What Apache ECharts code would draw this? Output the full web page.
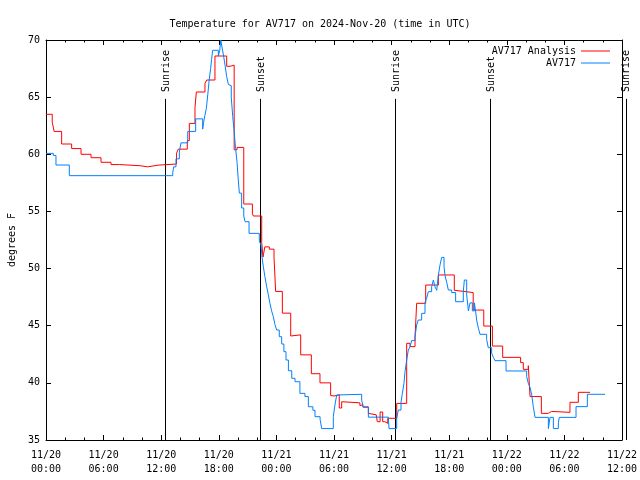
<!DOCTYPE html>
<html>
<head>
<meta charset="utf-8">
<script src="https://cdn.jsdelivr.net/npm/echarts@6/dist/echarts.min.js"></script>
<style>html,body{margin:0;padding:0;background:#fff}#c{width:640px;height:480px}</style>
</head>
<body>
<div id="c"></div>
<script>
// hours since 2024-11-20 00:00 UTC, degrees F
const analysisTimes = [0,0.65,0.85,1.63,2.67,3.65,4.69,5.73,6.77,7.64,9.79,10.6,11.67,13.6,13.78,14.72,14.93,15.52,15.66,16.56,16.74,17.6,18.82,19.17,19.6,19.9,20.6,21.5,21.6,22.47,22.6,22.8,23.26,23.75,23.92,24.62,25.49,25.66,26.53,27.64,28.54,29.65,29.8,30.0,30.55,30.8,30.97,32.7,32.9,33.0,33.58,33.75,34.4,34.51,34.8,35.07,35.3,35.6,36.53,37.57,37.92,38.44,38.61,39.55,40.87,42.53,42.7,43.54,44.5,45.6,46.5,47.57,49.44,49.72,50.24,50.42,51.6,52.33,52.67,54.58,55.45,56.67];
const analysisTemps = [63.5,62.8,62.0,60.9,60.5,60.0,59.7,59.3,59.1,59.0,58.9,59.05,59.15,60.1,60.45,61.2,62.7,64.1,65.45,66.2,66.5,68.6,67.7,67.8,60.4,60.6,55.65,54.8,54.6,52.3,51.0,51.9,51.7,51.0,48.0,46.1,44.1,44.2,42.45,40.8,40.0,38.9,38.85,38.95,37.8,38.35,38.25,38.0,38.1,37.9,37.33,37.2,37.05,36.6,37.45,36.6,36.46,36.9,38.2,43.46,43.17,44.0,46.96,48.56,49.44,48.1,48.0,47.9,46.37,44.97,43.22,42.23,41.77,41.18,41.5,38.8,37.33,37.5,37.42,38.3,39.17,39.17];

const obsTimes = [0,0.76,1.04,2.43,13.2,13.3,13.54,13.89,14.06,14.76,15.59,16.32,16.42,16.55,16.7,16.85,17.0,17.15,17.25,17.36,17.95,18.1,18.2,18.35,18.5,18.65,18.82,19.0,19.17,19.3,19.45,19.6,19.75,19.9,20.03,20.14,20.38,20.6,20.73,21.15,22.22,22.4,22.5,22.64,22.8,22.99,23.16,23.33,23.5,23.68,23.85,24.03,24.3,24.55,24.78,25.0,25.25,25.6,25.94,26.45,26.97,27.33,27.8,28.02,28.55,28.72,29.93,30.1,30.28,30.45,32.88,33.05,33.58,35.66,35.73,36.53,36.7,36.98,37.12,37.29,37.4,37.57,37.74,37.92,38.09,38.44,38.61,38.78,39.13,39.48,39.65,39.83,40.17,40.35,40.52,40.7,40.87,41.04,41.22,41.46,41.56,41.74,41.91,42.26,42.67,43.47,43.58,43.82,44.0,44.17,44.41,44.62,44.76,44.86,45.04,45.21,45.9,46.07,46.42,46.6,46.77,47.92,50.07,50.24,50.42,50.6,50.76,50.94,52.33,52.5,52.85,53.37,53.47,55.21,56.39,58.23];
const obsTemps = [60.08,59.9,59.06,58.13,58.4,58.9,59.6,60.2,61.0,62.0,63.1,62.2,62.8,63.4,64.0,65.2,66.5,67.5,68.3,69.1,68.6,69.1,70.0,69.3,68.6,67.8,66.8,66.1,66.0,65.0,63.3,62.0,60.5,59.3,57.75,56.6,55.3,54.6,54.1,53.08,52.4,52.06,51.0,50.16,49.3,48.4,47.7,46.96,46.3,45.79,45.1,44.62,44.04,43.4,42.73,42.0,41.06,40.4,40.1,39.08,38.8,37.91,37.6,37.04,36.8,36.0,37.04,38.06,38.94,39.0,38.5,37.86,37.0,36.98,36.0,36.9,37.62,38.3,39.08,39.96,40.98,42.0,42.87,43.17,43.7,44.04,45.06,45.5,46.08,47.05,47.4,47.98,48.4,49.0,48.4,48.1,49.4,50.3,50.98,50.2,49.4,48.8,48.12,47.9,47.1,48.0,49.0,47.7,46.3,47.0,46.3,47.0,46.2,45.5,44.77,44.25,43.8,43.08,42.6,42.23,41.94,41.04,40.54,39.96,39.6,38.94,37.92,36.98,36.0,36.98,36.0,36.5,36.98,37.92,39.0,39.0];

const sunTimes = [12.43, 22.32, 36.39, 46.28, 60.39];
const sunLabels = ['Sunrise', 'Sunset', 'Sunrise', 'Sunset', 'Sunrise'];

const xTickLabels = ['11/20\n00:00','11/20\n06:00','11/20\n12:00','11/20\n18:00','11/21\n00:00','11/21\n06:00','11/21\n12:00','11/21\n18:00','11/22\n00:00','11/22\n06:00','11/22\n12:00'];

const FONT = 'DejaVu Sans Mono';
const RED = '#ff0000', BLUE = '#0080ff';
const zip = (a, b) => a.map((v, i) => [v, b[i]]);
const LEGEND_ICON = 'path://M0,0L29,0L29,1L0,1Z';

const chart = echarts.init(document.getElementById('c'));
const xCommon = {
  type: 'value', min: 0, max: 60, interval: 6,
  axisLine: {show: true, onZero: false, lineStyle: {color: '#000', width: 1}},
  axisTick: {show: true, inside: true, length: 5, lineStyle: {color: '#000'}},
  minorTick: {show: true, splitNumber: 3, length: 2.5, lineStyle: {color: '#000'}},
  splitLine: {show: false}
};
const yCommon = {
  type: 'value', min: 35, max: 70, interval: 5,
  axisLine: {show: true, onZero: false, lineStyle: {color: '#000', width: 1}},
  axisTick: {show: true, inside: true, length: 5, lineStyle: {color: '#000'}},
  splitLine: {show: false}
};
chart.setOption({
  animation: false,
  backgroundColor: '#fff',
  title: {
    text: 'Temperature for AV717 on 2024-Nov-20 (time in UTC)',
    left: 'center', top: 14,
    textStyle: {fontFamily: FONT, fontSize: 10, fontWeight: 'normal', color: '#000'}
  },
  grid: {left: 46, right: 18, top: 40, bottom: 40, containLabel: false, outerBoundsMode: 'none'},
  legend: {
    data: [
      {name: 'AV717 Analysis', icon: LEGEND_ICON, itemStyle: {color: RED}},
      {name: 'AV717', icon: LEGEND_ICON, itemStyle: {color: BLUE}}
    ],
    orient: 'vertical', align: 'right',
    right: 30, top: 45, padding: 0,
    itemWidth: 29, itemHeight: 1, itemGap: 0,
    textStyle: {fontFamily: FONT, fontSize: 10, color: '#000', lineHeight: 12}
  },
  xAxis: [
    Object.assign({}, xCommon, {
      position: 'bottom',
      axisLabel: {
        fontFamily: FONT, fontSize: 10, color: '#000', margin: 8, lineHeight: 14,
        formatter: v => xTickLabels[Math.round(v / 6)]
      }
    }),
    Object.assign({}, xCommon, {position: 'top', axisLabel: {show: false}})
  ],
  yAxis: [
    Object.assign({}, yCommon, {
      position: 'left',
      name: 'degrees F', nameLocation: 'middle', nameRotate: 90, nameGap: 29,
      nameTextStyle: {fontFamily: FONT, fontSize: 10, color: '#000'},
      axisLabel: {fontFamily: FONT, fontSize: 10, color: '#000', margin: 6}
    }),
    Object.assign({}, yCommon, {position: 'right', axisLabel: {show: false}})
  ],
  series: [
    {
      name: 'AV717 Analysis', type: 'line', step: 'end',
      data: zip(analysisTimes, analysisTemps),
      showSymbol: false, symbol: 'none',
      lineStyle: {color: RED, width: 1}, itemStyle: {color: RED}
    },
    {
      name: 'AV717', type: 'line', step: 'end',
      data: zip(obsTimes, obsTemps),
      showSymbol: false, symbol: 'none',
      lineStyle: {color: BLUE, width: 1}, itemStyle: {color: BLUE}
    },
    {
      name: 'sun', type: 'custom', clip: false,
      data: sunTimes.map((t, i) => [t, i]),
      renderItem: function (params, api) {
        const t = api.value(0);
        const lbl = sunLabels[api.value(1)];
        const p0 = api.coord([t, 35]);
        const p1 = api.coord([t, 64.85]);
        const pl = api.coord([t, 65.45]);
        const x = Math.round(p0[0]) + 0.5;
        return {
          type: 'group',
          children: [
            {type: 'line', shape: {x1: x, y1: p0[1], x2: x, y2: p1[1]}, style: {stroke: '#000', lineWidth: 1}},
            {type: 'text', x: pl[0] + 1, y: pl[1], rotation: Math.PI / 2,
             style: {text: lbl, fill: '#000', font: '10px "' + FONT + '"', align: 'left', verticalAlign: 'middle'}}
          ]
        };
      }
    }
  ]
});
</script>
</body>
</html>
